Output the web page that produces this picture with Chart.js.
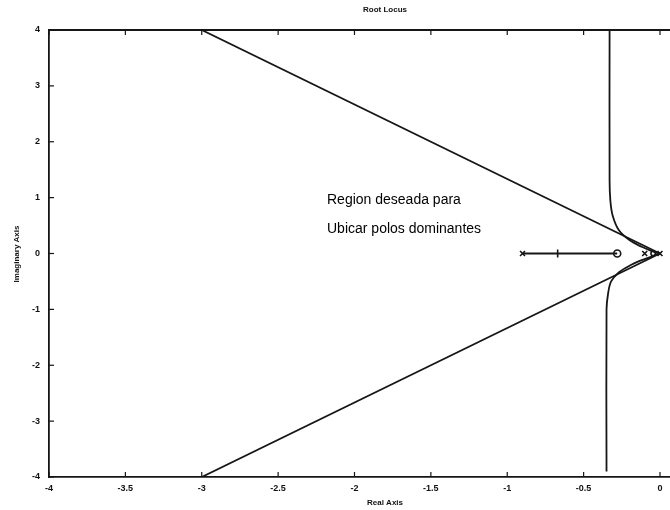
<!DOCTYPE html>
<html>
<head>
<meta charset="utf-8">
<script src="https://cdn.jsdelivr.net/npm/chart.js@4"></script>
<style>
	html, body { margin: 0; padding: 0; background: #fff; }
	#wrap { width: 670px; height: 510px; }
</style>
</head>
<body>
<div id="wrap"><canvas id="rlocus"></canvas></div>
<script>
// Tick labels
const xTicks = [ -4, -3.5, -3, -2.5, -2, -1.5, -1, -0.5, 0 ];
const yTicks = [ -4, -3, -2, -1, 0, 1, 2, 3, 4 ];

// Damping lines (region boundary)
const zetaUpX = [ -3, 0 ];
const zetaUpY = [ 4, 0 ];
const zetaLoX = [ -3, 0 ];
const zetaLoY = [ -4, 0 ];

// Complex branches
const branchUpX = [ -0.33, -0.33, -0.325, -0.31, -0.27, -0.2, -0.12, -0.05, -0.01 ];
const branchUpY = [ 4, 1.3, 0.95, 0.68, 0.42, 0.24, 0.12, 0.04, 0 ];
const branchLoX = [ -0.35, -0.35, -0.34, -0.32, -0.27, -0.2, -0.12, -0.05, -0.01 ];
const branchLoY = [ -3.9, -1.0, -0.72, -0.5, -0.34, -0.22, -0.12, -0.05, 0 ];

// Real axis branch
const realSegX = [ -0.9, -0.28 ];

// Poles, zeros, gain mark
const polesX = [ -0.9, -0.1, 0 ];
const zerosX = [ -0.28 ];
const smallZeroX = [ -0.045 ];
const gainMarkX = [ -0.67 ];

const ink = '#161616';
const pts = ( xs, ys ) => xs.map( ( x, i ) => ( { x: x, y: ys[ i ] } ) );
const onAxis = ( xs ) => xs.map( ( x ) => ( { x: x, y: 0 } ) );

const lineSet = ( data, extra ) => Object.assign( {
	data: data,
	showLine: true,
	borderColor: ink,
	borderWidth: 1.8,
	pointRadius: 0,
	fill: false,
}, extra || {} );

const markSet = ( data, style, radius, rot ) => ( {
	data: data,
	showLine: false,
	pointStyle: style,
	pointRadius: radius,
	pointRotation: rot || 0,
	borderColor: ink,
	backgroundColor: 'rgba(0,0,0,0)',
	borderWidth: 1.6,
} );

// Inside ticks, top frame and texts
const decor = {
	id: 'decor',
	afterDraw( chart ) {
		const { ctx, chartArea: a, scales: { x, y } } = chart;
		ctx.save();
		ctx.strokeStyle = ink;
		ctx.lineWidth = 1.8;
		ctx.beginPath();
		ctx.moveTo( a.left, a.top );
		ctx.lineTo( a.right, a.top );
		ctx.stroke();
		ctx.lineWidth = 1.2;
		xTicks.forEach( ( v ) => {
			const px = x.getPixelForValue( v );
			ctx.beginPath();
			ctx.moveTo( px, a.bottom );
			ctx.lineTo( px, a.bottom - 5 );
			ctx.moveTo( px, a.top );
			ctx.lineTo( px, a.top + 5 );
			ctx.stroke();
		} );
		yTicks.forEach( ( v ) => {
			const py = y.getPixelForValue( v );
			ctx.beginPath();
			ctx.moveTo( a.left, py );
			ctx.lineTo( a.left + 5, py );
			ctx.stroke();
		} );

		ctx.fillStyle = '#111';
		ctx.textAlign = 'center';
		ctx.textBaseline = 'middle';
		ctx.font = 'bold 8px "Liberation Sans", Arial, sans-serif';
		ctx.fillText( 'Root Locus', 385, 10 );
		ctx.fillText( 'Real Axis', 385, 503 );
		ctx.save();
		ctx.translate( 17, 254 );
		ctx.rotate( -Math.PI / 2 );
		ctx.fillText( 'Imaginary Axis', 0, 0 );
		ctx.restore();

		ctx.fillStyle = '#000';
		ctx.textAlign = 'left';
		ctx.textBaseline = 'alphabetic';
		ctx.font = '14px "Liberation Sans", Arial, sans-serif';
		ctx.fillText( 'Region deseada para', 327, 204 );
		ctx.fillText( 'Ubicar polos dominantes', 327, 233 );
		ctx.restore();
	},
};

const tickFont = { family: '"Liberation Sans", Arial, sans-serif', size: 9, weight: 'bold' };

new Chart( document.getElementById( 'rlocus' ), {
	type: 'scatter',
	data: {
		datasets: [
			lineSet( pts( zetaUpX, zetaUpY ) ),
			lineSet( pts( zetaLoX, zetaLoY ) ),
			lineSet( pts( branchUpX, branchUpY ), { tension: 0.35 } ),
			lineSet( pts( branchLoX, branchLoY ), { tension: 0.35 } ),
			lineSet( onAxis( realSegX ) ),
			markSet( onAxis( polesX ), 'crossRot', 3.5 ),
			markSet( onAxis( zerosX ), 'circle', 3.5 ),
			markSet( onAxis( smallZeroX ), 'circle', 2.2 ),
			markSet( onAxis( gainMarkX ), 'line', 4, 90 ),
		],
	},
	options: {
		responsive: true,
		maintainAspectRatio: false,
		animation: false,
		layout: { autoPadding: false, padding: { top: 30, right: 0, left: 0, bottom: 0 } },
		plugins: {
			legend: { display: false },
			tooltip: { enabled: false },
		},
		scales: {
			x: {
				type: 'linear',
				min: -4,
				max: 0.0655,
				afterBuildTicks: ( s ) => { s.ticks = xTicks.map( ( v ) => ( { value: v } ) ); },
				afterFit: ( s ) => { s.height = 33; s.paddingLeft = 0; s.paddingRight = 0; },
				grid: { display: true, drawOnChartArea: false, drawTicks: false },
				border: { display: true, color: ink, width: 1.8 },
				ticks: {
					padding: 6,
					color: '#111',
					font: tickFont,
					maxRotation: 0,
					autoSkip: false,
					callback: ( v ) => String( v ),
				},
			},
			y: {
				type: 'linear',
				min: -4,
				max: 4,
				afterBuildTicks: ( s ) => { s.ticks = yTicks.map( ( v ) => ( { value: v } ) ); },
				afterFit: ( s ) => { s.width = 49; s.paddingTop = 0; s.paddingBottom = 0; },
				grid: { display: true, drawOnChartArea: false, drawTicks: false },
				border: { display: true, color: ink, width: 1.8 },
				ticks: {
					padding: 9,
					color: '#111',
					font: tickFont,
					autoSkip: false,
					callback: ( v ) => String( v ),
				},
			},
		},
	},
	plugins: [ decor ],
} );
</script>
</body>
</html>
